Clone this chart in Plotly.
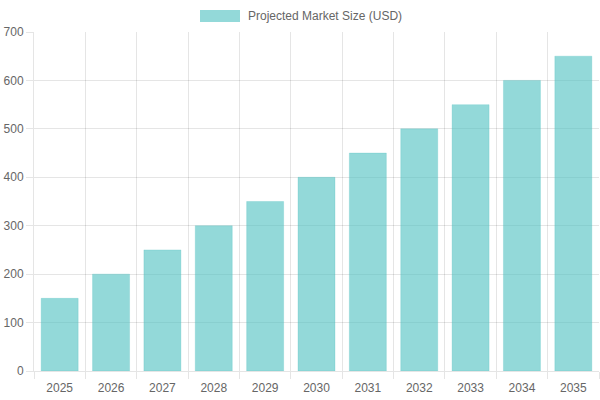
import plotly.graph_objects as go

years = ["2025", "2026", "2027", "2028", "2029", "2030", "2031", "2032", "2033", "2034", "2035"]
market_size = [150, 200, 250, 300, 350, 400, 450, 500, 550, 600, 650]
series_name = "Projected Market Size (USD)"

fill = "rgba(75,192,192,0.6)"
border = "rgba(75,192,192,0.25)"
grid = "rgba(0,0,0,0.1)"
font = dict(family="Liberation Sans, Arial, sans-serif", size=12, color="#666")

fig = go.Figure()
fig.add_trace(go.Bar(
    x=years, y=market_size, name=series_name,
    marker=dict(color=fill, line=dict(color=border, width=1)),
    width=0.72, showlegend=False,
))

fig.update_layout(
    width=600, height=400,
    margin=dict(l=34, r=1, t=32, b=29),
    paper_bgcolor="white", plot_bgcolor="white",
    font=font,
    bargap=0.28,
    xaxis=dict(
        type="category", tickson="boundaries", ticks="outside", ticklen=7,
        tickcolor=grid, showgrid=True, gridcolor=grid, gridwidth=1,
        showline=True, linecolor=grid, linewidth=1,
        tickfont=font, range=[-0.5, 10.5], ticklabelstandoff=6,
    ),
    yaxis=dict(
        range=[0, 700], dtick=100, ticks="outside", ticklen=7,
        tickcolor=grid, showgrid=True, gridcolor=grid, gridwidth=1,
        showline=True, linecolor=grid, linewidth=1, zeroline=False,
        tickfont=font,
    ),
    shapes=[dict(
        type="rect", xref="paper", yref="paper", xsizemode="pixel", ysizemode="pixel",
        xanchor=(200 - 34) / 565, yanchor=1,
        x0=0, x1=40, y0=22, y1=10,
        fillcolor=fill, line=dict(width=0),
    )],
    annotations=[dict(
        text=series_name, xref="paper", yref="paper",
        x=(246 - 34) / 565, y=1, xanchor="left", yanchor="middle",
        yshift=16, showarrow=False, font=font,
    )],
)

fig.write_html("out.html")
